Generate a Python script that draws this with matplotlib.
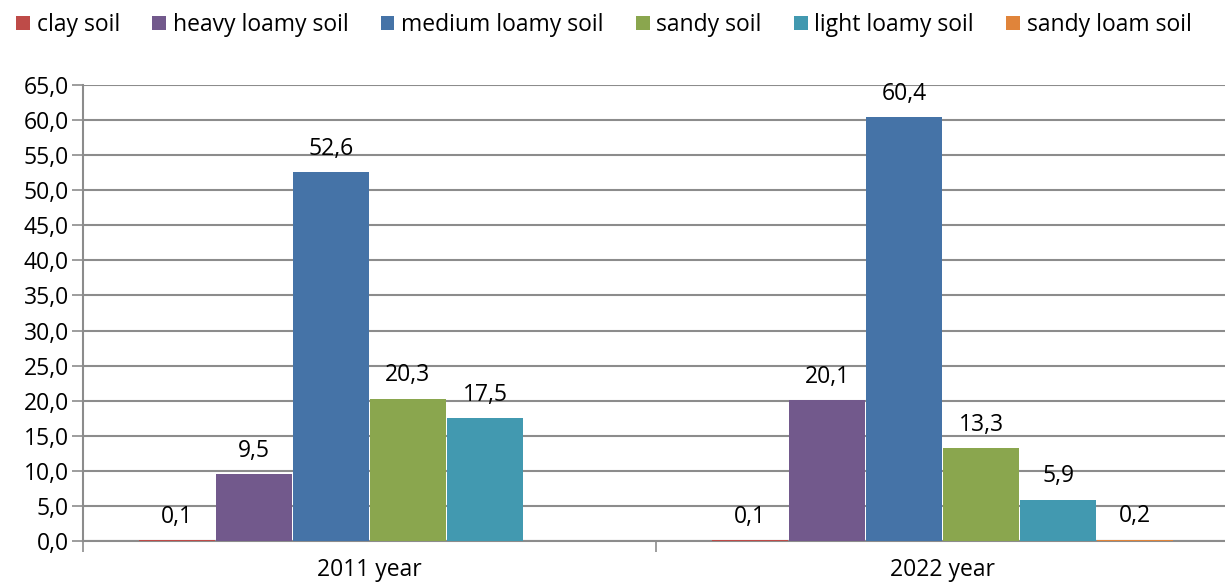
import numpy as np
import matplotlib
matplotlib.use("Agg")
import matplotlib.pyplot as plt
from matplotlib.patches import Patch

# Data
years = ["2011 year", "2022 year"]
soil_types = ["clay soil", "heavy loamy soil", "medium loamy soil",
              "sandy soil", "light loamy soil", "sandy loam soil"]
clay = [0.1, 0.1]
heavy_loamy = [9.5, 20.1]
medium_loamy = [52.6, 60.4]
sandy = [20.3, 13.3]
light_loamy = [17.5, 5.9]
sandy_loam = [np.nan, 0.2]
series = [clay, heavy_loamy, medium_loamy, sandy, light_loamy, sandy_loam]
colors = ["#BE4B48", "#72598C", "#4573A7", "#8AA64E", "#4299B0", "#E0843A"]

plt.rcParams["font.family"] = ["Open Sans", "DejaVu Sans"]
fs = 16.5

fig = plt.figure(figsize=(12.25, 5.86), dpi=100)
ax = fig.add_axes([83 / 1225, 45 / 586, 1146 / 1225, 456 / 586])

x = np.arange(len(years))
width = 77 / 573
grid_col = "#8C8C8C"

for i, (vals, col) in enumerate(zip(series, colors)):
    pos = x + (i - 2.5) * width
    vals = np.array(vals, dtype=float)
    ok = ~np.isnan(vals)
    ax.bar(pos[ok], vals[ok], width=width * 0.99, color=col,
           linewidth=0, zorder=3)
    for p, v in zip(pos[ok], vals[ok]):
        ax.annotate(f"{v:.1f}".replace(".", ","), (p, v), xytext=(0, 8),
                    textcoords="offset points", ha="center", va="bottom",
                    fontsize=fs)

ax.set_xlim(-0.5, 1.5)
ax.set_ylim(0, 65)
ax.set_yticks(np.arange(0, 66, 5))
ax.set_yticklabels([f"{t:.1f}".replace(".", ",") for t in np.arange(0, 66, 5)],
                   fontsize=fs)
ax.yaxis.grid(True, color=grid_col, linewidth=1.5, zorder=0)
ax.set_axisbelow(True)

# category labels between boundary ticks
ax.set_xticks([-0.5, 0.5, 1.5])
ax.set_xticklabels([])
ax.set_xticks(x, minor=True)
ax.set_xticklabels(years, minor=True, fontsize=fs)
ax.tick_params(axis="x", which="minor", length=0, pad=12)
ax.tick_params(axis="x", which="major", length=8, color=grid_col, width=1.2)
ax.tick_params(axis="y", length=8, color=grid_col, width=1.2, pad=2)

for s in ["top", "right"]:
    ax.spines[s].set_visible(False)
for s in ["left", "bottom"]:
    ax.spines[s].set_color(grid_col)
    ax.spines[s].set_linewidth(1.5)

handles = [Patch(facecolor=c, label=l) for c, l in zip(colors, soil_types)]
fig.legend(handles=handles, loc="center", bbox_to_anchor=(0.493, 0.957),
           ncol=6, frameon=False, fontsize=fs, handlelength=0.6,
           handleheight=0.6, handletextpad=0.3, columnspacing=1.4)

fig.savefig("out.png", dpi=100)
